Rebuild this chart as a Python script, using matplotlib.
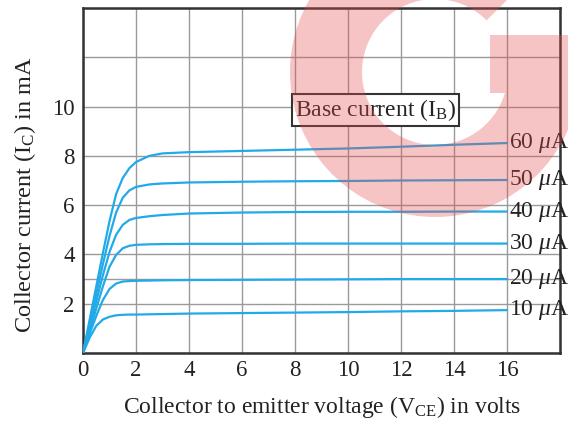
import matplotlib
matplotlib.use("Agg")
import matplotlib.pyplot as plt
from matplotlib.patches import Wedge, Rectangle, PathPatch
from matplotlib.path import Path
from matplotlib.ticker import FixedLocator, FixedFormatter

plt.rcParams['font.family'] = ['Liberation Serif', 'DejaVu Serif']
plt.rcParams['mathtext.fontset'] = 'custom'
plt.rcParams['mathtext.rm'] = 'Liberation Serif'
plt.rcParams['mathtext.it'] = 'Liberation Serif:italic'
plt.rcParams['mathtext.bf'] = 'Liberation Serif:bold'

# ---- data ----
vce = [0, 0.25, 0.5, 0.75, 1.0, 1.25, 1.5, 1.75, 2.0, 2.5, 3.0, 4, 6, 8, 10, 12, 14, 16]
ic_10 = [0, 0.62, 1.1, 1.36, 1.47, 1.53, 1.55, 1.56, 1.56, 1.57, 1.58, 1.6, 1.62, 1.64, 1.66, 1.69, 1.71, 1.74]
ic_20 = [0, 0.78, 1.5, 2.15, 2.6, 2.82, 2.9, 2.92, 2.93, 2.94, 2.95, 2.96, 2.97, 2.98, 2.99, 3.0, 3.0, 3.0]
ic_30 = [0, 0.9, 1.8, 2.7, 3.5, 3.98, 4.25, 4.35, 4.39, 4.41, 4.42, 4.43, 4.43, 4.44, 4.44, 4.44, 4.44, 4.44]
ic_40 = [0, 1.05, 2.1, 3.15, 4.1, 4.8, 5.2, 5.4, 5.48, 5.55, 5.6, 5.66, 5.7, 5.72, 5.73, 5.73, 5.74, 5.74]
ic_50 = [0, 1.2, 2.4, 3.6, 4.75, 5.7, 6.3, 6.6, 6.74, 6.84, 6.88, 6.92, 6.95, 6.97, 6.98, 7.0, 7.01, 7.02]
ic_60 = [0, 1.35, 2.7, 4.05, 5.35, 6.45, 7.1, 7.5, 7.75, 8.0, 8.1, 8.15, 8.2, 8.25, 8.3, 8.37, 8.45, 8.52]
curves = [ic_10, ic_20, ic_30, ic_40, ic_50, ic_60]
curve_labels = [r'10 $\mu$A', r'20 $\mu$A', r'30 $\mu$A', r'40 $\mu$A', r'50 $\mu$A', r'60 $\mu$A']

x_ticks = [0, 2, 4, 6, 8, 10, 12, 14, 16, 18]
x_tick_labels = ['0', '2', '4', '6', '8', '10', '12', '14', '16', '']
y_ticks = [0, 2, 4, 6, 8, 10, 12, 14]
y_tick_labels = ['', '2', '4', '6', '8', '10', '', '']
y_extra_grid = [3]

FS = 17
TXT = '#222222'

# ---- figure ----
W, H = 568, 421
fig = plt.figure(figsize=(W / 100, H / 100), dpi=100)
ax = fig.add_axes([83 / W, (H - 353) / H, (560 - 83) / W, (353 - 8) / H])

ax.set_xlim(0, 18)
ax.set_ylim(0, 14)
ax.xaxis.set_major_locator(FixedLocator(x_ticks))
ax.xaxis.set_major_formatter(FixedFormatter(x_tick_labels))
ax.yaxis.set_major_locator(FixedLocator(y_ticks))
ax.yaxis.set_major_formatter(FixedFormatter(y_tick_labels))
ax.yaxis.set_minor_locator(FixedLocator(y_extra_grid))
ax.grid(True, which='both', color='#9a9a9a', lw=1.0)
ax.set_axisbelow(True)
ax.tick_params(which='both', length=0, labelsize=FS - 0.5, colors=TXT)
ax.tick_params(axis='x', pad=5)
ax.tick_params(axis='y', pad=6)
for s in ax.spines.values():
    s.set_color('#333333')
    s.set_linewidth(1.8)

line_color = '#22aae8'
for ic, lab in zip(curves, curve_labels):
    ax.plot(vce, ic, color=line_color, lw=1.6, solid_capstyle='round', zorder=3)
    ax.annotate(lab, xy=(vce[-1], ic[-1]), xytext=(1.5, 0), textcoords='offset points',
                ha='left', va='center', fontsize=FS, color=TXT,
                annotation_clip=False, zorder=4)

ax.text(11.05, 9.85, r'Base current (I$_{\rm B}$)', ha='center', va='center', fontsize=FS,
        color=TXT, zorder=4,
        bbox=dict(boxstyle='square,pad=0.12', fc='white', ec='#333333', lw=1.5))

ax.set_xlabel(r'Collector to emitter voltage (V$_{\rm CE}$) in volts', fontsize=FS, color=TXT)
ax.set_ylabel(r'Collector current (I$_{\rm C}$) in mA', fontsize=FS + 0.5, color=TXT)
ax.xaxis.set_label_coords(0.502, -0.157)
ax.yaxis.set_label_coords(-0.122, 0.458)
ax.xaxis.label.set_va('center')
ax.yaxis.label.set_va('center')

# ---- pink "G" watermark overlay (decoration), one compound path so overlaps fill once ----
cx, cy = 435, H - 72
ring_path = Wedge((cx, cy), 145, 45, 352, width=72).get_path()
bar_path = Rectangle((490, H - 93), 95, 58).get_path()
bar_path = bar_path.transformed(Rectangle((490, H - 93), 95, 58).get_patch_transform())
g_path = Path.make_compound_path(ring_path, bar_path)
g_patch = PathPatch(g_path, facecolor='#e64c4c', edgecolor='none', alpha=0.33,
                    zorder=10, transform=None)
fig.add_artist(g_patch)

fig.savefig('out.png', dpi=100)
